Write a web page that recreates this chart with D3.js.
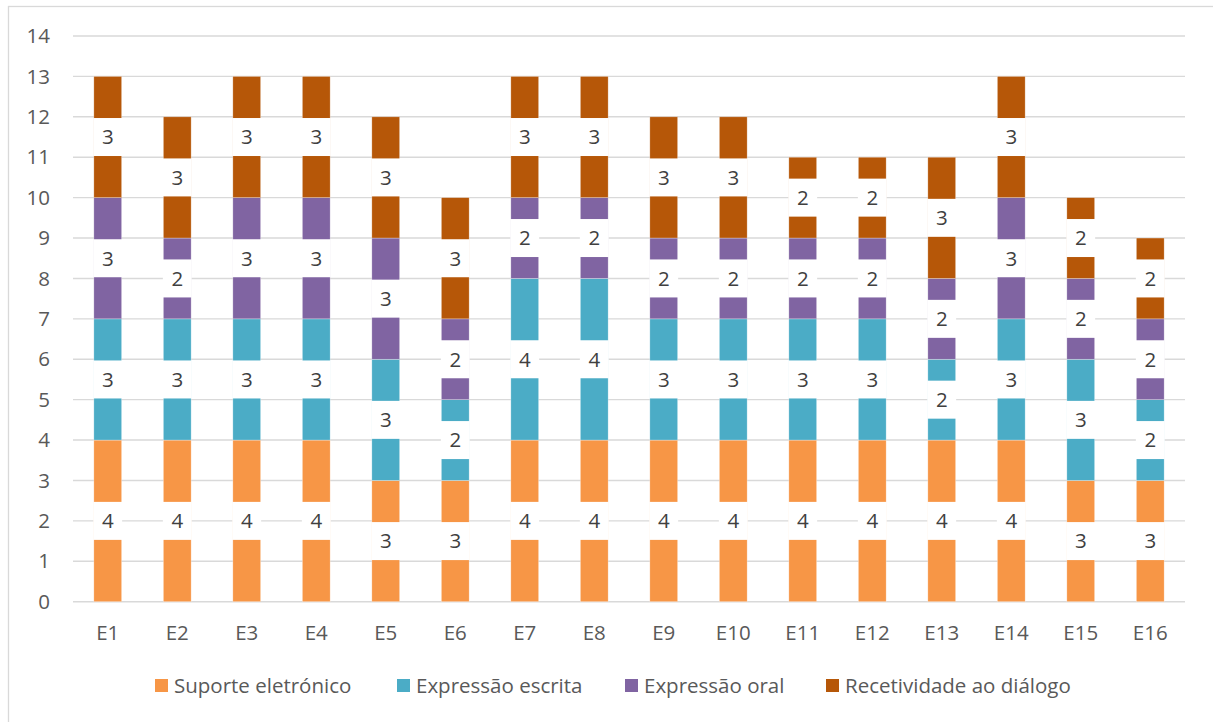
<!DOCTYPE html>
<html>
<head>
<meta charset="utf-8">
<script src="https://cdn.jsdelivr.net/npm/d3@7"></script>
<style>
  body { margin: 0; background: #fff; }
  svg text { font-family: "Open Sans", "Noto Sans", sans-serif; fill: #595959; }
</style>
</head>
<body>
<div id="chart"></div>
<script>
const W = 1213, H = 722

const categories = ["E1","E2","E3","E4","E5","E6","E7","E8","E9","E10","E11","E12","E13","E14","E15","E16"]
const seriesNames = ["Suporte eletrónico", "Expressão escrita", "Expressão oral", "Recetividade ao diálogo"]
const suporte     = [4,4,4,4,3,3,4,4,4,4,4,4,4,4,3,3]
const escrita     = [3,3,3,3,3,2,4,4,3,3,3,3,2,3,3,2]
const oral        = [3,2,3,3,3,2,2,2,2,2,2,2,2,3,2,2]
const recetividade= [3,3,3,3,3,3,3,3,3,3,2,2,3,3,2,2]
const yTicks = [0,1,2,3,4,5,6,7,8,9,10,11,12,13,14]
const colors = ["#F79646", "#4BACC6", "#8064A2", "#B65708"]

const rows = categories.map((c, i) => ({
  cat: c,
  [seriesNames[0]]: suporte[i],
  [seriesNames[1]]: escrita[i],
  [seriesNames[2]]: oral[i],
  [seriesNames[3]]: recetividade[i]
}))

const margin = {left: 73, right: W - 1185, top: 36, bottom: H - 601.7}
const FS = "20.5px"

const svg = d3.select("#chart").append("svg")
  .attr("width", W)
  .attr("height", H)

// outer chart border
svg.append("rect")
  .attr("x", 8.5).attr("y", 6.5)
  .attr("width", W + 20).attr("height", H + 20)
  .attr("fill", "none")
  .attr("stroke", "#d9d9d9")
  .attr("stroke-width", 1.3)

const x = d3.scaleBand()
  .domain(categories)
  .range([margin.left, W - margin.right])
  .paddingInner(0.6)
  .paddingOuter(0.3)

const y = d3.scaleLinear()
  .domain([0, 14])
  .range([H - margin.bottom, margin.top])

// gridlines
svg.append("g")
  .selectAll("line")
  .data(yTicks)
  .enter()
  .append("line")
  .attr("x1", margin.left)
  .attr("x2", W - margin.right)
  .attr("y1", d => y(d))
  .attr("y2", d => y(d))
  .attr("stroke", "#d9d9d9")
  .attr("stroke-width", 1.4)

// y tick labels
svg.append("g")
  .selectAll("text")
  .data(yTicks)
  .enter()
  .append("text")
  .attr("x", 50)
  .attr("y", d => y(d))
  .attr("dy", "0.35em")
  .attr("text-anchor", "end")
  .style("font-size", FS)
  .text(d => d)

// x tick labels
svg.append("g")
  .selectAll("text")
  .data(categories)
  .enter()
  .append("text")
  .attr("x", d => x(d) + x.bandwidth() / 2)
  .attr("y", 633)
  .attr("dy", "0.35em")
  .attr("text-anchor", "middle")
  .style("font-size", FS)
  .text(d => d)

const stacked = d3.stack().keys(seriesNames)(rows)

const layers = svg.append("g")
  .selectAll("g")
  .data(stacked)
  .enter()
  .append("g")
  .attr("fill", (d, i) => colors[i])

layers.selectAll("rect")
  .data(d => d)
  .enter()
  .append("rect")
  .attr("x", d => x(d.data.cat))
  .attr("y", d => y(d[1]))
  .attr("width", x.bandwidth())
  .attr("height", d => y(d[0]) - y(d[1]))
  .attr("stroke", "#ffffff")
  .attr("stroke-opacity", 0.5)
  .attr("stroke-width", 0.6)

// data labels with white boxes
const labels = svg.append("g")
  .selectAll("g")
  .data(stacked)
  .enter()
  .append("g")
  .selectAll("g")
  .data(d => d.map(p => ({p: p, v: p[1] - p[0]})))
  .enter()
  .append("g")
  .attr("transform", d => `translate(${x(d.p.data.cat) + x.bandwidth() / 2},${y((d.p[0] + d.p[1]) / 2)})`)

labels.append("rect")
  .attr("x", -x.bandwidth() / 2 - 0.5)
  .attr("y", -19)
  .attr("width", x.bandwidth() + 1)
  .attr("height", 38)
  .attr("fill", "#ffffff")

labels.append("text")
  .attr("text-anchor", "middle")
  .attr("dy", "0.36em")
  .style("font-size", FS)
  .style("fill", "#404040")
  .text(d => d.v)

// legend
const legendX = [155, 397, 625, 826]
const legend = svg.append("g")
  .selectAll("g")
  .data(seriesNames)
  .enter()
  .append("g")
  .attr("transform", (d, i) => `translate(${legendX[i]},679)`)

legend.append("rect")
  .attr("width", 13)
  .attr("height", 13)
  .attr("fill", (d, i) => colors[i])

legend.append("text")
  .attr("x", 19)
  .attr("y", 7)
  .attr("dy", "0.35em")
  .style("font-size", FS)
  .text(d => d)
</script>
</body>
</html>
